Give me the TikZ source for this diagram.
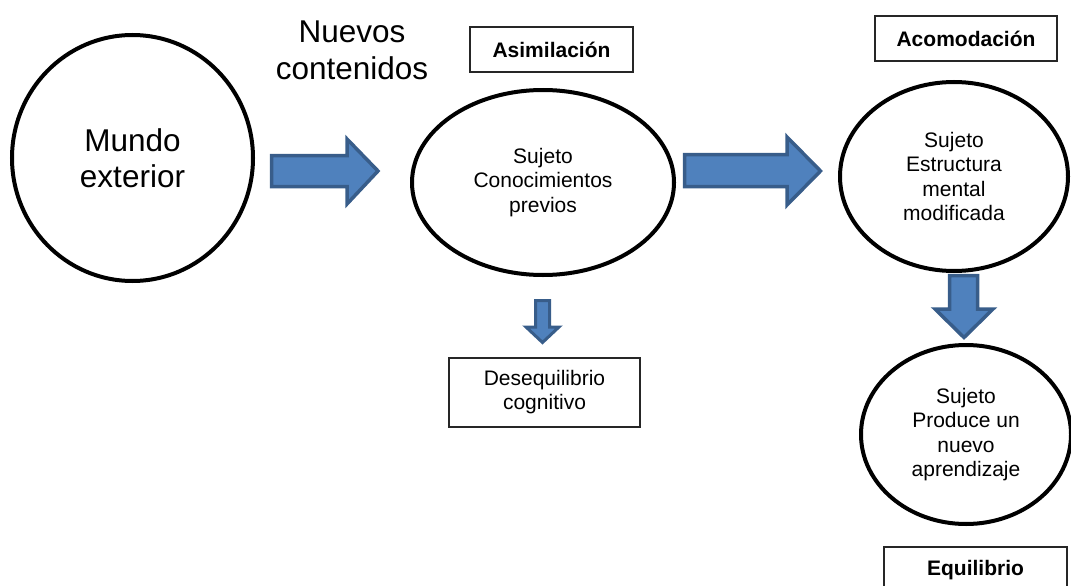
\documentclass[tikz,border=0pt]{standalone}
\usepackage{fontspec}
\setmainfont{Liberation Sans}
\usetikzlibrary{shapes.geometric}
\definecolor{arrowfill}{HTML}{4F81BD}
\definecolor{arrowline}{HTML}{385D8A}
\begin{document}
\begin{tikzpicture}[x=1pt,y=-1pt,
  oval/.style={ellipse, draw=black, line width=4pt, inner sep=0pt, align=center, font=\fontsize{21}{24.5}\selectfont},
  bigoval/.style={oval, font=\fontsize{31.5}{36}\selectfont},
  titlebox/.style={draw=black!85, line width=1.2pt, inner sep=0pt, align=center, font=\fontsize{21}{24}\selectfont\bfseries},
  plainbox/.style={draw=black!85, line width=1.2pt, inner sep=0pt, align=center, font=\fontsize{21}{24}\selectfont},
  bigtext/.style={inner sep=0pt, align=center, font=\fontsize{31.5}{37}\selectfont},
  blockarrow/.style={fill=arrowfill, draw=arrowline, line width=3.5pt, line join=miter}
]
\clip (0,0) rectangle (1071,586);
\useasboundingbox (0,0) rectangle (1071,586);

% nodes
\node[bigoval, minimum width=241pt, minimum height=246pt] (mundo) at (132.5,158) {Mundo\\exterior};
\node[bigtext] (nuevos) at (352,50) {Nuevos\\contenidos};
\node[titlebox, minimum width=163pt, minimum height=45pt] (asim) at (551.5,49.5) {Asimilación};
\node[oval, minimum width=262pt, minimum height=185pt] (previos) at (543,182.5) {Sujeto\\Conocimientos\\previos};
\node[titlebox, minimum width=182pt, minimum height=45pt] (acom) at (966,38.5) {Acomodación};
\node[oval, minimum width=228pt, minimum height=189pt] (modif) at (954,176.5) {Sujeto\\Estructura\\mental\\modificada};
\node[oval, minimum width=210pt, minimum height=179pt] (nuevo) at (966,434.5) {Sujeto\\Produce un\\nuevo\\aprendizaje};
\node[plainbox, minimum width=191pt, minimum height=69pt] (deseq) at (544.5,392.5) {Desequilibrio\\cognitivo};
\node[titlebox, minimum width=183pt, minimum height=46pt] (equil) at (975.5,570) {Equilibrio};

% block arrows
\draw[blockarrow] (271.5,155.5) -- (347,155.5) -- (347,139) -- (378,171) -- (347,204) -- (347,186.5) -- (271.5,186.5) -- cycle;
\draw[blockarrow] (684.5,154.5) -- (787,154.5) -- (787,137) -- (820.5,171) -- (787,205) -- (787,186.5) -- (684.5,186.5) -- cycle;
\draw[blockarrow] (949.5,275.5) -- (977.5,275.5) -- (977.5,309) -- (993,309) -- (964,337.5) -- (935,309) -- (949.5,309) -- cycle;
\draw[blockarrow, line width=3pt] (535.5,300.5) -- (549.5,300.5) -- (549.5,327) -- (559,327) -- (542.5,342.5) -- (526,327) -- (535.5,327) -- cycle;
\end{tikzpicture}
\end{document}
